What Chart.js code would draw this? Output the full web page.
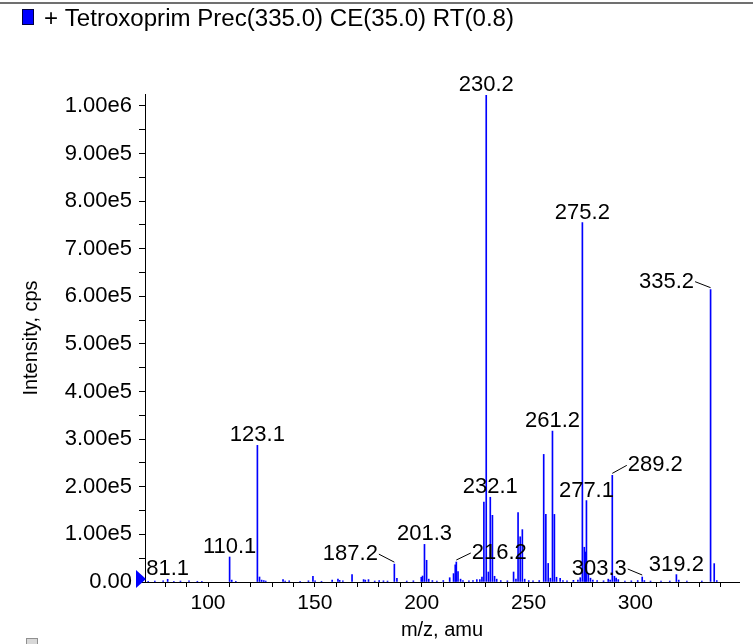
<!DOCTYPE html>
<html>
<head>
<meta charset="utf-8">
<script src="https://cdn.jsdelivr.net/npm/chart.js@4.4.0/dist/chart.umd.min.js"></script>
<style>
  html, body { margin: 0; padding: 0; background: #fff; }
  canvas { display: block; }
</style>
</head>
<body>
<canvas id="chart" width="753" height="644"></canvas>
<script>
// spectrum data (m/z, intensity in cps)
const mz = [
  72.0, 75.1, 79.0, 81.1, 84.0, 87.1, 91.1, 95.0, 97.1,
  110.1, 111.1, 113.0, 123.1, 124.1, 125.1, 126.1, 127.0,
  135.1, 136.1, 138.0, 143.1, 147.0, 149.1, 150.1, 153.1,
  158.1, 160.8, 161.6, 163.1, 167.4, 172.8, 173.6, 175.1,
  178.0, 180.1, 182.1, 184.0, 187.2, 188.4, 193.0, 196.1,
  199.8, 200.4, 201.3, 202.3, 203.3, 205.0, 207.1, 210.1,
  213.1, 214.9, 215.7, 216.2, 217.0, 218.2, 219.3, 222.1,
  224.0, 225.8, 227.2, 228.2, 229.1, 230.2, 231.2, 232.1,
  233.1, 234.1, 235.1, 237.0, 240.1, 243.0, 244.1, 245.1,
  246.1, 247.1, 248.2, 250.1, 252.1, 255.0, 257.1, 258.1,
  259.2, 260.2, 261.2, 262.1, 263.1, 264.8, 266.1, 268.0,
  271.0, 273.1, 274.2, 275.2, 276.1, 276.6, 277.1, 278.0,
  279.0, 280.1, 282.1, 285.1, 287.3, 288.2, 289.2, 290.2,
  291.0, 292.0, 295.1, 298.1, 301.1, 303.2, 304.2, 307.1,
  312.0, 316.1, 319.2, 320.3, 324.1, 331.1, 335.2, 336.9, 338.1
];
const intensity = [
  1500, 2000, 2500, 5700, 1500, 2000, 2500, 1500, 1500,
  52500, 4000, 1500, 287000, 10500, 4000, 3000, 2000,
  5000, 2000, 2500, 1500, 2500, 12000, 2500, 1500,
  4000, 6000, 3500, 2500, 15500, 5000, 4000, 5000,
  2000, 3000, 2500, 2000, 37500, 7800, 2000, 2500,
  10000, 12600, 79000, 45600, 6000, 3000, 2000, 3000,
  9000, 17600, 36000, 42000, 22000, 6000, 3000, 2500,
  3000, 5000, 5000, 10500, 168000, 1022000, 21000, 178000,
  140000, 12000, 6000, 3000, 2500, 21000, 6000, 146000,
  95000, 110000, 6000, 3000, 2500, 3000, 268000, 142000,
  39000, 8000, 317000, 142000, 10000, 7800, 3000, 2500,
  3500, 4000, 9000, 755000, 73000, 63000, 171000, 18000,
  8000, 4000, 3000, 2500, 6000, 4000, 224000, 12000,
  8000, 5000, 2000, 2500, 3000, 10500, 3000, 2000,
  2000, 2000, 15500, 4000, 2000, 2000, 614000, 38600, 3000
];

// annotated peaks
const peakLabels = ['81.1', '110.1', '123.1', '187.2', '201.3', '216.2', '230.2', '232.1',
  '261.2', '275.2', '277.1', '289.2', '303.3', '319.2', '335.2'];

// axis ticks: minor step / labelled step
const xTickStep = 10, xLabelStep = 50;
const yTickStep = 50000, yLabelStep = 100000, yTicksMax = 1000000;

const FONT = '"Liberation Sans", Arial, Helvetica, sans-serif';

// labels that sit beside their peak with a leader line: [dx, dy] of text centre from peak top
const leaderOffsets = {
  '187.2': [-44, -12],
  '216.2': [43, -11],
  '289.2': [43, -12],
  '303.3': [-43, -10],
  '335.2': [-44, -10]
};

function nearestPeak(v) {
  let best = 0;
  mz.forEach((m, i) => {
    if (Math.abs(m - v) < Math.abs(mz[best] - v)) best = i;
  });
  return best;
}

function isMultiple(v, step) {
  return Math.abs(v / step - Math.round(v / step)) < 1e-6;
}

function stepTicks(from, to, step) {
  const out = [];
  for (let v = Math.ceil(from / step) * step; v <= to + 1e-9; v += step) out.push({ value: v });
  return out;
}

const decorations = {
  id: 'decorations',
  afterDraw(chart) {
    const ctx = chart.ctx;
    const xs = chart.scales.x;
    const ys = chart.scales.y;
    ctx.save();

    // peak labels
    ctx.font = '22px ' + FONT;
    ctx.fillStyle = '#000';
    ctx.strokeStyle = '#000';
    ctx.lineWidth = 1;
    ctx.textAlign = 'center';
    ctx.textBaseline = 'alphabetic';
    peakLabels.forEach(t => {
      const k = nearestPeak(parseFloat(t));
      const px = xs.getPixelForValue(mz[k]);
      const py = ys.getPixelForValue(intensity[k]);
      const off = leaderOffsets[t];
      if (!off) {
        ctx.fillText(t, px, py - 4);
        return;
      }
      const cx = px + off[0];
      const cy = py + off[1];
      ctx.fillText(t, cx, cy + 8);
      const w = ctx.measureText(t).width;
      const ex = off[0] < 0 ? cx + w / 2 + 1 : cx - w / 2 - 1;
      ctx.beginPath();
      ctx.moveTo(ex, cy + 2);
      ctx.lineTo(px, py - 2);
      ctx.stroke();
    });

    // zero marker on the y axis
    const y0 = ys.getPixelForValue(0);
    const left = chart.chartArea.left;
    ctx.fillStyle = '#0000ff';
    ctx.beginPath();
    ctx.moveTo(left - 9, y0 - 12);
    ctx.lineTo(left + 1, y0 - 3);
    ctx.lineTo(left - 9, y0 + 6);
    ctx.closePath();
    ctx.fill();

    // top rule
    ctx.fillStyle = '#707070';
    ctx.fillRect(0, 2, chart.width, 2);

    // legend entry
    ctx.fillStyle = '#0000ff';
    ctx.fillRect(22, 9, 12, 16);
    ctx.strokeStyle = '#000040';
    ctx.strokeRect(22.5, 9.5, 11, 15);
    ctx.fillStyle = '#000';
    ctx.font = '23px ' + FONT;
    ctx.textAlign = 'left';
    ctx.textBaseline = 'middle';
    const title = '+ Tetroxoprim Prec(335.0) CE(35.0) RT(0.8)';
    const tw = ctx.measureText(title).width;
    ctx.save();
    ctx.translate(44, 20);
    ctx.scale(470 / tw, 1);
    ctx.fillText(title, 0, 0);
    ctx.restore();

    // next pane's legend box peeking in at the bottom
    ctx.fillStyle = '#d8d8d8';
    ctx.fillRect(26, 638, 12, 8);
    ctx.strokeStyle = '#909090';
    ctx.strokeRect(26.5, 638.5, 11, 8);

    ctx.restore();
  }
};

new Chart(document.getElementById('chart'), {
  type: 'bar',
  data: {
    datasets: [{
      data: mz.map((m, i) => ({ x: m, y: intensity[i] })),
      backgroundColor: '#0000ff',
      borderWidth: 0,
      barThickness: 1,
      grouped: false
    }]
  },
  options: {
    responsive: false,
    animation: false,
    devicePixelRatio: 1,
    layout: { padding: { left: 0, right: 14, top: 94, bottom: 0 } },
    plugins: { legend: { display: false }, tooltip: { enabled: false } },
    scales: {
      x: {
        type: 'linear',
        min: 70.5,
        max: 348.5,
        offset: false,
        afterBuildTicks: ax => { ax.ticks = stepTicks(ax.min, ax.max, xTickStep); },
        afterFit: s => { s.height = 62; },
        ticks: {
          autoSkip: false,
          maxRotation: 0,
          padding: 4,
          color: '#000',
          font: { family: FONT, size: 21 },
          callback: v => (isMultiple(v, xLabelStep) ? String(Math.round(v)) : '')
        },
        grid: { drawOnChartArea: false, drawTicks: true, tickLength: 5, color: '#000', offset: false },
        border: { display: true, color: '#000', width: 1 },
        title: {
          display: true,
          text: 'm/z, amu',
          color: '#000',
          font: { family: FONT, size: 20 },
          padding: { top: 0, bottom: 2 }
        }
      },
      y: {
        min: 0,
        max: 1025000,
        afterBuildTicks: ax => { ax.ticks = stepTicks(0, yTicksMax, yTickStep); },
        afterFit: s => { s.width = 145; },
        ticks: {
          autoSkip: false,
          padding: 7,
          color: '#000',
          font: { family: FONT, size: 22 },
          callback: v => {
            if (!isMultiple(v, yLabelStep)) return '';
            const r = Math.round(v / yLabelStep) * yLabelStep;
            return r === 0 ? '0.00' : r.toExponential(2).replace('e+', 'e');
          }
        },
        grid: { drawOnChartArea: false, drawTicks: true, tickLength: 6, color: '#000' },
        border: { display: true, color: '#000', width: 1 },
        title: {
          display: true,
          text: 'Intensity, cps',
          color: '#000',
          font: { family: FONT, size: 20 },
          padding: { top: 19, bottom: 0 }
        }
      }
    }
  },
  plugins: [decorations]
});
</script>
</body>
</html>
